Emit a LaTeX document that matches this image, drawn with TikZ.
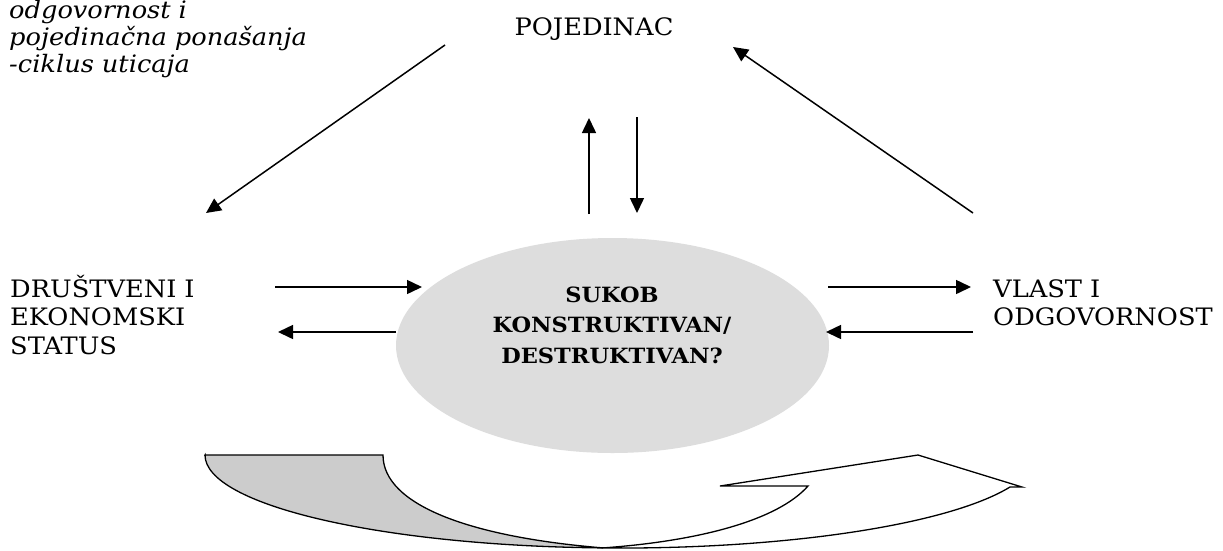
\documentclass[tikz,border=0pt]{standalone}
\usepackage{fontspec}
\setmainfont{DejaVu Serif}[FakeStretch=1.07]
\usetikzlibrary{arrows.meta,shapes.geometric}
\definecolor{ellgray}{HTML}{DDDDDD}
\definecolor{bandgray}{HTML}{CCCCCC}
\begin{document}
\begin{tikzpicture}[x=1pt,y=-1pt,
  lbl/.style={inner sep=0pt, font=\fontsize{24}{28.5}\selectfont},
  conn/.style={line width=1.5pt, -{Triangle[length=15pt,width=14pt]}},
  band/.style={draw=black, line width=1.3pt, line join=miter}]
\fill[white] (0,0) rectangle (1223,550);
\useasboundingbox (0,0) rectangle (1223,550);

% central ellipse
\node[ellipse, fill=ellgray, minimum width=433pt, minimum height=215pt, inner sep=0pt] (ell) at (612.5,345.5) {};
\node[inner sep=0pt, anchor=base, text width=360pt, align=center,
      font=\bfseries\fontsize{21}{30.5}\selectfont] (conf) at (612,302)
  {SUKOB\\KONSTRUKTIVAN/\\DESTRUKTIVAN?};

% labels
\node[lbl, anchor=base west, text width=400pt, align=left, font=\itshape\fontsize{24}{27}\selectfont] (note) at (9,18)
  {odgovornost i\\pojedinačna ponašanja\\-ciklus uticaja};
\node[lbl, anchor=base] (poj) at (594,35) {POJEDINAC};
\node[lbl, anchor=base west, text width=300pt, align=left] (status) at (10,297)
  {DRUŠTVENI I\\EKONOMSKI\\STATUS};
\node[lbl, anchor=base west, text width=300pt, align=left] (vlast) at (993,297)
  {VLAST I\\ODGOVORNOST};

% connector end points
\coordinate (dlA) at (445,45);
\coordinate (dlB) at (206,213);
\coordinate (drA) at (973,213);
\coordinate (drB) at (733,47);
\coordinate (vuA) at (589,214);
\coordinate (vuB) at (589,118);
\coordinate (vdA) at (637,117);
\coordinate (vdB) at (637,213);
\coordinate (luA) at (275,287);
\coordinate (luB) at (422,287);
\coordinate (llA) at (396,332);
\coordinate (llB) at (278,332);
\coordinate (ruA) at (828,287);
\coordinate (ruB) at (971,287);
\coordinate (rlA) at (973,332);
\coordinate (rlB) at (826,332);

\draw[conn] (dlA) -- (dlB);
\draw[conn] (drA) -- (drB);
\draw[conn] (vuA) -- (vuB);
\draw[conn] (vdA) -- (vdB);
\draw[conn] (luA) -- (luB);
\draw[conn] (llA) -- (llB);
\draw[conn] (ruA) -- (ruB);
\draw[conn] (rlA) -- (rlB);

% curved arrow at the bottom
\path[band, fill=white] (603,547.9) .. controls (700,541) and (778,520) .. (808,486)
  -- (720,486) -- (918,455) -- (1022,487) -- (1010,487)
  arc[start angle=20.1, end angle=92.35, x radius=415, y radius=93] -- cycle;
\path[band, fill=bandgray] (205,455) -- (383,455)
  .. controls (383,505) and (470,537) .. (603,547.9)
  arc[start angle=92.35, end angle=180, x radius=415, y radius=93] -- cycle;
\end{tikzpicture}
\end{document}
